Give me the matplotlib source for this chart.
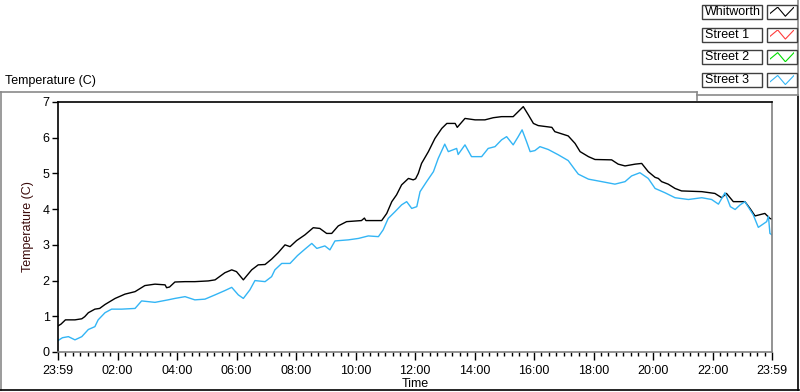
import matplotlib
matplotlib.use("Agg")
import matplotlib.pyplot as plt
from matplotlib.lines import Line2D
from matplotlib.patches import Rectangle

plt.rcParams["font.family"] = ["Liberation Sans", "DejaVu Sans"]

# ---------------- data ----------------
series_names = ["Whitworth", "Street 1", "Street 2", "Street 3"]
series_colors = ["#000000", "#ff3c3c", "#00dd00", "#33b5f5"]

whitworth_hours = [0.0, 0.1, 0.25, 0.57, 0.8, 0.9, 1.02, 1.24, 1.4, 1.58, 1.92, 2.25, 2.59, 2.92,
                   3.26, 3.6, 3.65, 3.75, 3.93, 4.27, 4.6, 5.05, 5.28, 5.61, 5.84, 6.0, 6.23, 6.51,
                   6.73, 6.96, 7.18, 7.4, 7.63, 7.8, 8.02, 8.3, 8.58, 8.8, 9.03, 9.2, 9.42, 9.7,
                   10.2, 10.3, 10.35, 10.88, 11.05, 11.22, 11.38, 11.55, 11.78, 11.94, 12.02, 12.11,
                   12.22, 12.45, 12.67, 12.9, 13.07, 13.35, 13.42, 13.68, 14.02, 14.35, 14.63, 14.91,
                   15.3, 15.47, 15.64, 15.81, 15.98, 16.14, 16.6, 16.7, 17.15, 17.38, 17.55, 17.83,
                   18.05, 18.61, 18.83, 19.06, 19.4, 19.62, 19.84, 20.07, 20.18, 20.29, 20.51, 20.74,
                   20.96, 21.64, 22.08, 22.31, 22.47, 22.7, 23.09, 23.26, 23.43, 23.76, 23.93, 24.0]
whitworth_temp = [0.73, 0.78, 0.9, 0.9, 0.93, 0.99, 1.1, 1.2, 1.22, 1.33, 1.5, 1.62, 1.69, 1.86,
                  1.9, 1.88, 1.8, 1.82, 1.96, 1.97, 1.97, 1.99, 2.02, 2.22, 2.3, 2.25, 2.02, 2.3,
                  2.44, 2.45, 2.6, 2.78, 3.0, 2.95, 3.12, 3.28, 3.48, 3.46, 3.32, 3.32, 3.53, 3.65,
                  3.68, 3.75, 3.68, 3.68, 3.88, 4.21, 4.4, 4.68, 4.86, 4.82, 4.85, 5.0,
                  5.28, 5.61, 5.98, 6.26, 6.4, 6.4, 6.29, 6.54, 6.5, 6.5, 6.56, 6.59,
                  6.59, 6.73, 6.87, 6.64, 6.4, 6.34, 6.29, 6.17, 6.05, 5.84, 5.61, 5.47,
                  5.39, 5.38, 5.26, 5.21, 5.26, 5.28, 5.05, 4.89, 4.86, 4.77, 4.7, 4.58,
                  4.51, 4.49, 4.44, 4.32, 4.44, 4.21, 4.21, 4.02, 3.81, 3.88, 3.74, 3.72]

street3_hours = [0.0, 0.15, 0.35, 0.57, 0.8, 1.02, 1.24, 1.35, 1.58, 1.8, 2.14, 2.59, 2.81, 3.26,
                 3.7, 3.93, 4.27, 4.6, 4.94, 5.28, 5.61, 5.84, 6.06, 6.23, 6.45, 6.62, 6.96, 7.18,
                 7.29, 7.52, 7.8, 8.05, 8.3, 8.53, 8.7, 8.97, 9.14, 9.31, 9.76, 10.1, 10.43, 10.77,
                 10.93, 11.1, 11.33, 11.55, 11.72, 11.89, 12.06, 12.17, 12.39, 12.62, 12.78, 13.0,
                 13.12, 13.4, 13.45, 13.68, 13.9, 14.24, 14.46, 14.69, 14.91, 15.08, 15.3, 15.47,
                 15.6, 15.75, 15.87, 16.03, 16.2, 16.48, 16.82, 17.15, 17.38, 17.49, 17.83, 18.28,
                 18.72, 19.06, 19.28, 19.56, 19.84, 20.07, 20.4, 20.74, 21.19, 21.64, 21.97, 22.2,
                 22.42, 22.6, 22.76, 22.93, 23.09, 23.37, 23.54, 23.82, 23.88, 23.93, 24.0]
street3_temp = [0.32, 0.4, 0.43, 0.34, 0.43, 0.63, 0.71, 0.9, 1.1, 1.2, 1.2, 1.22, 1.43, 1.39,
                1.46, 1.5, 1.55, 1.46, 1.48, 1.6, 1.72, 1.81, 1.6, 1.5, 1.74, 2.0, 1.97, 2.11,
                2.3, 2.48, 2.48, 2.7, 2.88, 3.04, 2.9, 2.97, 2.86, 3.11, 3.14, 3.18, 3.25, 3.23,
                3.42, 3.74, 3.93, 4.12, 4.21, 4.02, 4.07, 4.49, 4.77, 5.05, 5.42, 5.82,
                5.61, 5.7, 5.53, 5.8, 5.47, 5.47, 5.7, 5.75, 5.94, 6.03, 5.8, 6.03,
                6.22, 5.89, 5.61, 5.64, 5.75, 5.67, 5.52, 5.36, 5.1, 4.98, 4.84, 4.77,
                4.7, 4.77, 4.93, 5.02, 4.86, 4.58, 4.46, 4.32, 4.27, 4.32, 4.27, 4.14,
                4.46, 4.07, 3.99, 4.12, 4.21, 3.84, 3.49, 3.65, 3.8, 3.32, 3.28]

x_tick_hours = [0, 2, 4, 6, 8, 10, 12, 14, 16, 18, 20, 22, 24]
x_tick_labels = ["23:59", "02:00", "04:00", "06:00", "08:00", "10:00", "12:00",
                 "14:00", "16:00", "18:00", "20:00", "22:00", "23:59"]
y_ticks = [0, 1, 2, 3, 4, 5, 6, 7]

# ---------------- figure ----------------
W, H = 800, 392
fig = plt.figure(figsize=(W / 100, H / 100), dpi=100)
FS = 9

def fx(px):
    return px / W

def fy(py):
    return 1 - py / H

ax = fig.add_axes([fx(58), fy(352), fx(772) - fx(58), fy(102) - fy(352)])
ax.plot(whitworth_hours, whitworth_temp, color=series_colors[0], lw=1.0)
ax.plot(street3_hours, street3_temp, color=series_colors[3], lw=1.0)

ax.set_xlim(0, 24)
ax.set_ylim(0, 7)
ax.set_xticks(x_tick_hours)
ax.set_xticklabels(x_tick_labels, fontsize=FS)
ax.set_xticks([h / 4 for h in range(0, 97)], minor=True)
ax.set_yticks(y_ticks)
ax.set_yticklabels([str(v) for v in y_ticks], fontsize=FS)
ax.tick_params(axis="x", which="major", length=6, width=1, direction="out", pad=3, colors="black")
ax.tick_params(axis="x", which="minor", length=3, width=1, direction="out")
ax.tick_params(axis="y", which="major", length=4, width=1, direction="out", pad=2)
for side in ["left", "top"]:
    ax.spines[side].set_color("black")
    ax.spines[side].set_linewidth(1.2)
for side in ["right", "bottom"]:
    ax.spines[side].set_color("#808080")
    ax.spines[side].set_linewidth(1.2)
ax.set_xlabel("Time", fontsize=FS, labelpad=1)
ax.set_ylabel("Temperature (C)", fontsize=FS, color="#3a0a0a", labelpad=6)

# Graph caption
fig.text(fx(5), fy(81), "Temperature (C)", fontsize=FS, va="center", ha="left")

# outer frame (LabVIEW style)
frame = [
    ((0, 697), (92, 92), "#8a8a8a"),
    ((1, 1), (92, 390), "#8a8a8a"),
    ((0, 799), (390, 390), "#000000"),
    ((798, 798), (95, 390), "#000000"),
    ((798, 798), (0, 95), "#8a8a8a"),
    ((697, 697), (92, 100), "#8a8a8a"),
    ((697, 798), (95, 95), "#8a8a8a"),
]
for xs, ys, c in frame:
    fig.add_artist(Line2D([fx(xs[0]), fx(xs[1])], [fy(ys[0]), fy(ys[1])],
                          color=c, lw=1.2, transform=fig.transFigure, zorder=-1))

# legend (plot legend boxes)
row_top = [4.7, 27.5, 50.2, 73.0]
for name, color, top in zip(series_names, series_colors, row_top):
    bot = top + 14
    fig.add_artist(Rectangle((fx(702), fy(bot)), fx(762) - fx(702), fy(top) - fy(bot),
                             transform=fig.transFigure, fill=True, facecolor="white",
                             edgecolor="#404040", lw=1.0, zorder=-1))
    fig.text(fx(705), fy((top + bot) / 2), name, fontsize=FS, va="center", ha="left")
    fig.add_artist(Rectangle((fx(767), fy(bot)), fx(797) - fx(767), fy(top) - fy(bot),
                             transform=fig.transFigure, fill=True, facecolor="white",
                             edgecolor="#404040", lw=1.0, zorder=-1))
    sw = fig.add_axes([fx(770), fy(bot - 2), fx(794) - fx(770), fy(top + 2) - fy(bot - 2)])
    sw.set_zorder(5)
    sw.patch.set_alpha(0)
    sw.plot([0, 0.32, 0.64, 1.0], [0.3, 1.0, 0.0, 1.0], color=color, lw=0.8)
    sw.set_xlim(0, 1)
    sw.set_ylim(-0.05, 1.05)
    sw.axis("off")

fig.savefig("out.png", dpi=100)
